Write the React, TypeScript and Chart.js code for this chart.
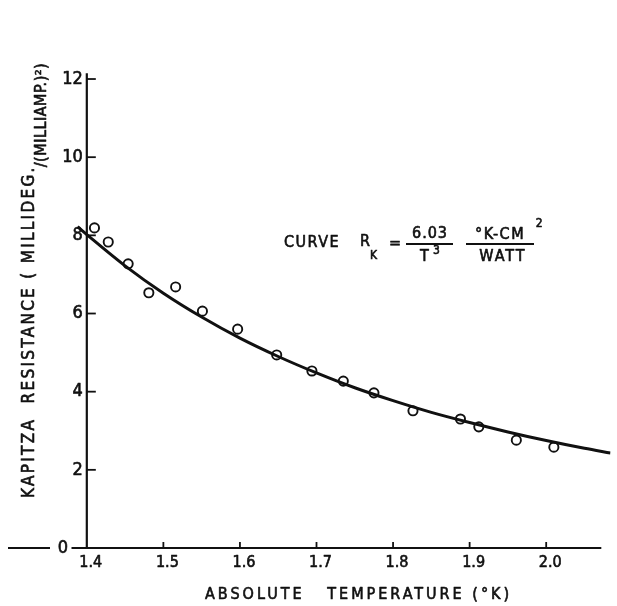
import React, { useEffect, useRef } from 'react';
import { Chart, registerables } from 'chart.js';

Chart.register(...registerables);

// Measured points (open circles)
const measuredTemps = [1.41, 1.428, 1.454, 1.481, 1.516, 1.551, 1.597, 1.648, 1.694, 1.735, 1.775, 1.826, 1.888, 1.912, 1.961, 2.01];
const measuredResistance = [8.19, 7.83, 7.27, 6.53, 6.68, 6.06, 5.6, 4.94, 4.53, 4.27, 3.97, 3.51, 3.3, 3.1, 2.76, 2.58];

// Fitted curve
const curveTemps = [1.388, 1.4, 1.45, 1.5, 1.55, 1.6, 1.65, 1.7, 1.75, 1.8, 1.85, 1.9, 1.95, 2.0, 2.05, 2.084];
const curveResistance = [8.22, 8.02, 7.22, 6.52, 5.91, 5.37, 4.9, 4.48, 4.1, 3.77, 3.47, 3.21, 2.97, 2.75, 2.55, 2.43];

const xTickValues = [1.4, 1.5, 1.6, 1.7, 1.8, 1.9, 2.0];
const xTickLabels = ['1.4', '1.5', '1.6', '1.7', '1.8', '1.9', '2.0'];
const yTickValues = [0, 2, 4, 6, 8, 10, 12];
const yTickLabels = ['0', '2', '4', '6', '8', '10', '12'];

const xTitle = 'ABSOLUTE   TEMPERATURE (°K)';
const yTitleMain = 'KAPITZA  RESISTANCE ( MILLIDEG.';
const yTitleTail = '/(MILLIAMP.)²)';

const INK = '#111';
const FONT = '"DejaVu Sans Condensed", "DejaVu Sans", sans-serif';

function inkText(ctx: CanvasRenderingContext2D, s: string, x: number, y: number) {
  ctx.fillText(s, x, y);
  ctx.lineWidth = 0.6;
  ctx.strokeText(s, x, y);
}

const axesPlugin = {
  id: 'handDrawnAxes',
  afterDraw(chart: any) {
    const ctx = chart.ctx as CanvasRenderingContext2D;
    const xs = chart.scales.x;
    const ys = chart.scales.y;
    const y0 = ys.getPixelForValue(0);
    const xAxisX = xs.getPixelForValue(1.4);
    ctx.save();
    ctx.strokeStyle = INK;
    ctx.fillStyle = INK;
    ctx.lineCap = 'butt';
    ctx.lineJoin = 'round';

    // x axis line
    ctx.lineWidth = 2.2;
    ctx.beginPath();
    ctx.moveTo(xs.getPixelForValue(1.38), y0);
    ctx.lineTo(xs.getPixelForValue(2.072), y0);
    ctx.stroke();
    // y axis line
    ctx.beginPath();
    ctx.moveTo(xAxisX, y0 + 1);
    ctx.lineTo(xAxisX, ys.getPixelForValue(12.15));
    ctx.stroke();

    // y ticks (inward)
    ctx.lineWidth = 1.8;
    yTickValues.forEach((v) => {
      if (v === 0) return;
      const py = ys.getPixelForValue(v);
      ctx.beginPath();
      ctx.moveTo(xAxisX, py);
      ctx.lineTo(xAxisX + 9, py);
      ctx.stroke();
    });
    // x ticks (inward)
    xTickValues.forEach((v) => {
      if (v === 1.4) return;
      const px = xs.getPixelForValue(v);
      ctx.beginPath();
      ctx.moveTo(px, y0);
      ctx.lineTo(px, y0 - 6);
      ctx.stroke();
    });
    // dash left of the zero label
    ctx.lineWidth = 2.2;
    ctx.beginPath();
    ctx.moveTo(8, y0);
    ctx.lineTo(50, y0);
    ctx.stroke();

    // y tick labels
    ctx.font = `18px ${FONT}`;
    ctx.textBaseline = 'middle';
    ctx.textAlign = 'right';
    yTickValues.forEach((v, i) => {
      const py = ys.getPixelForValue(v);
      const rx = v === 0 ? 68 : xAxisX - 4;
      inkText(ctx, yTickLabels[i], rx, py);
    });
    // x tick labels
    ctx.font = `16px ${FONT}`;
    ctx.textAlign = 'center';
    xTickValues.forEach((v, i) => {
      const px = xs.getPixelForValue(v);
      inkText(ctx, xTickLabels[i], px + 4, y0 + 15);
    });

    // x title
    ctx.font = `16px ${FONT}`;
    (ctx as any).letterSpacing = '3px';
    ctx.textAlign = 'left';
    inkText(ctx, xTitle, 205, 595);

    // y title
    ctx.save();
    ctx.translate(30, 498);
    ctx.rotate(-Math.PI / 2);
    ctx.textAlign = 'left';
    ctx.font = `17px ${FONT}`;
    (ctx as any).letterSpacing = '2.3px';
    inkText(ctx, yTitleMain, 0, 0);
    const w = ctx.measureText(yTitleMain).width;
    ctx.font = `16px ${FONT}`;
    (ctx as any).letterSpacing = '0.5px';
    inkText(ctx, yTitleTail, w - 2, 12);
    ctx.restore();

    // annotation
    (ctx as any).letterSpacing = '1.5px';
    ctx.font = `16px ${FONT}`;
    ctx.textAlign = 'left';
    inkText(ctx, 'CURVE', 284, 243);
    inkText(ctx, 'R', 360, 242);
    ctx.font = `12px ${FONT}`;
    inkText(ctx, 'K', 370, 256);
    ctx.font = `16px ${FONT}`;
    inkText(ctx, '=', 389, 244);
    ctx.textAlign = 'center';
    (ctx as any).letterSpacing = '1px';
    inkText(ctx, '6.03', 430, 234);
    inkText(ctx, 'T', 425, 257);
    ctx.font = `12px ${FONT}`;
    inkText(ctx, '3', 437, 251);
    ctx.font = `16px ${FONT}`;
    (ctx as any).letterSpacing = '1.5px';
    inkText(ctx, '°K-CM', 500, 235);
    ctx.font = `12px ${FONT}`;
    inkText(ctx, '2', 540, 224);
    ctx.font = `16px ${FONT}`;
    (ctx as any).letterSpacing = '2px';
    inkText(ctx, 'WATT', 503, 257);
    ctx.lineWidth = 1.8;
    ctx.beginPath();
    ctx.moveTo(406, 244);
    ctx.lineTo(453, 244);
    ctx.moveTo(466, 244);
    ctx.lineTo(534, 244);
    ctx.stroke();

    ctx.restore();
  },
};

export default function App() {
  const ref = useRef<HTMLCanvasElement | null>(null);
  useEffect(() => {
    if (!ref.current) return;
    const chart = new Chart(ref.current, {
      type: 'scatter',
      data: {
        datasets: [
          {
            label: 'curve',
            data: curveTemps.map((t, i) => ({ x: t, y: curveResistance[i] })),
            showLine: true,
            borderColor: INK,
            borderWidth: 3,
            pointRadius: 0,
            cubicInterpolationMode: 'monotone',
            order: 1,
          },
          {
            label: 'measured',
            data: measuredTemps.map((t, i) => ({ x: t, y: measuredResistance[i] })),
            showLine: false,
            pointStyle: 'circle',
            pointRadius: 4.6,
            pointBorderWidth: 1.9,
            borderColor: INK,
            backgroundColor: 'rgba(255,255,255,0)',
            order: 2,
          },
        ],
      },
      options: {
        animation: false,
        responsive: false,
        layout: { padding: { left: 71.5, right: 0, top: 71.2, bottom: 58 } },
        plugins: { legend: { display: false }, tooltip: { enabled: false } },
        scales: {
          x: { type: 'linear', min: 1.38, max: 2.084, display: false },
          y: { type: 'linear', min: 0, max: 12.2, display: false },
        },
      },
      plugins: [axesPlugin],
    } as any);
    return () => chart.destroy();
  }, []);
  return (
    <div style={{ position: 'fixed', left: 0, top: 0, width: 617, height: 606, background: '#fff' }}>
      <canvas ref={ref} width={617} height={606} style={{ display: 'block' }} />
    </div>
  );
}
